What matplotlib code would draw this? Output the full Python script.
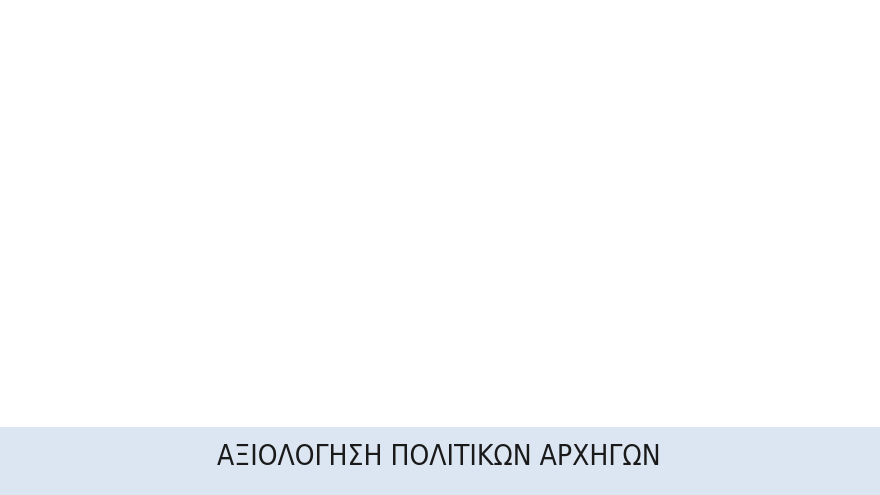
import matplotlib
matplotlib.use("Agg")
import matplotlib.pyplot as plt
from matplotlib.patches import Rectangle

title = "ΑΞΙΟΛΟΓΗΣΗ ΠΟΛΙΤΙΚΩΝ ΑΡΧΗΓΩΝ"
band_color = "#dce6f2"

fig = plt.figure(figsize=(8.8, 4.95), dpi=100)
fig.patch.set_facecolor("white")

# bottom banner, starts at ~y=427 px of 495
band_h = 68 / 495
fig.patches.append(Rectangle((0, 0), 1, band_h, transform=fig.transFigure,
                             facecolor=band_color, edgecolor="none"))

fig.text(439 / 880, 1 - 457 / 495, title, ha="center", va="center",
         fontsize=20.2, color="#1a1a1a", fontstretch="condensed",
         family=["DejaVu Sans"])

fig.savefig("out.png", dpi=100)
